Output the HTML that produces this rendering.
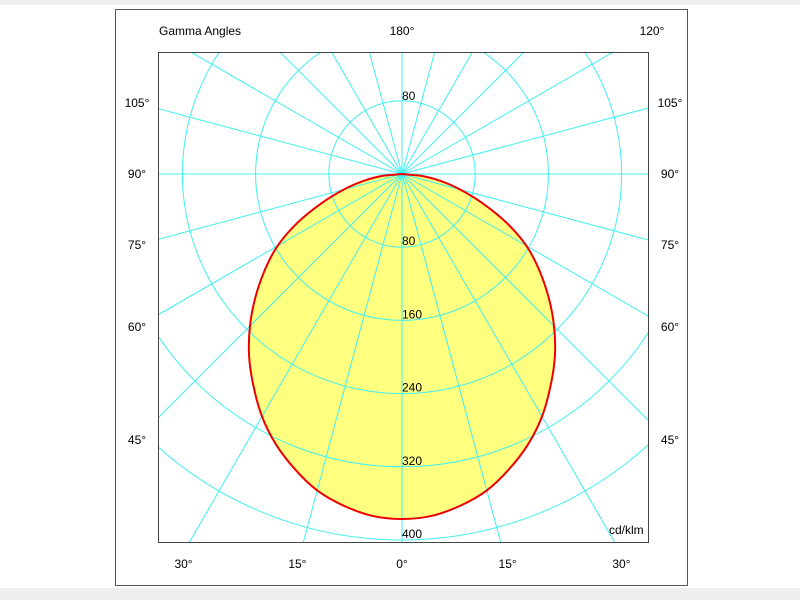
<!DOCTYPE html>
<html><head><meta charset="utf-8"><style>
html,body{margin:0;background:#fff;overflow:hidden;width:800px;height:600px;}
svg{display:block;font-family:"Liberation Sans",Arial,sans-serif;}
</style></head><body>
<svg id="chart" width="800" height="600" viewBox="0 0 800 600">
<rect x="0" y="0" width="800" height="5" fill="#eeeeee"/>
<rect x="0" y="588" width="800" height="12" fill="#eeeeee"/>
<rect x="115.5" y="9.5" width="572" height="576" fill="#fff" stroke="#555" stroke-width="1"/>
<defs><clipPath id="clip"><rect x="158" y="52" width="490" height="490"/></clipPath></defs>
<g id="series" clip-path="url(#clip)"></g>
<g id="grid2" clip-path="url(#clip)"></g>
<rect x="158.5" y="52.5" width="490" height="490" fill="none" stroke="#444" stroke-width="1"/>
<g font-size="12" fill="#000">
<text x="159" y="35">Gamma Angles</text>
<text x="609" y="534">cd/klm</text>
</g>
<g id="labels" font-size="12" fill="#000"></g>
</svg>
<script>
const gammaAngles=[0,5,10,15,20,25,30,35,40,45,50,55,60,65,70,75,80,85,90];
const intensity=[377,375,368,358,343,326,306,283,260,235,209,183,157,126,94,66,42,20,0];
const ringValues=[80,160,240,320,400];
const spokeStep=15;
const sideLabels=[{t:"105°",y:103},{t:"90°",y:174},{t:"75°",y:245},{t:"60°",y:327},{t:"45°",y:440}];
const bottomLabels=[{t:"30°",a:-30},{t:"15°",a:-15},{t:"0°",a:0},{t:"15°",a:15},{t:"30°",a:30}];
const topLabels=[{t:"180°",x:402},{t:"120°",x:652}];
const NS="http://www.w3.org/2000/svg";
const cx=402,cy=174,scale=0.915;
function rad(v){return v*scale;}
function pt(g,v){const a=g*Math.PI/180;return [cx+rad(v)*Math.sin(a),cy+rad(v)*Math.cos(a)];}
function mk(tag,attrs,parent){const e=document.createElementNS(NS,tag);for(const k in attrs)e.setAttribute(k,attrs[k]);parent.appendChild(e);return e;}
const series=document.getElementById('series'),labels=document.getElementById('labels'),g2=document.getElementById('grid2');
let pts=[];
for(let i=0;i<gammaAngles.length;i++){pts.push(pt(gammaAngles[i],intensity[i]));}
for(let i=gammaAngles.length-2;i>0;i--){pts.push(pt(-gammaAngles[i],intensity[i]));}
// closed Catmull-Rom smooth path
const n=pts.length;
let d='M'+pts[0][0].toFixed(1)+','+pts[0][1].toFixed(1);
for(let i=0;i<n;i++){
 const p0=pts[(i-1+n)%n],p1=pts[i],p2=pts[(i+1)%n],p3=pts[(i+2)%n];
 const t=(p1===pts[gammaAngles.length-1]||p2===pts[gammaAngles.length-1])?0:1/6;
 const c1=[p1[0]+(p2[0]-p0[0])*t,p1[1]+(p2[1]-p0[1])*t];
 const c2=[p2[0]-(p3[0]-p1[0])*t,p2[1]-(p3[1]-p1[1])*t];
 d+=' C'+c1[0].toFixed(1)+','+c1[1].toFixed(1)+' '+c2[0].toFixed(1)+','+c2[1].toFixed(1)+' '+p2[0].toFixed(1)+','+p2[1].toFixed(1);
}
d+='Z';
const fill=mk('path',{d:d,fill:'#ffff80',stroke:'none'},series);


for(const v of ringValues){
 const c=mk('circle',{cx:cx,cy:cy,r:rad(v),fill:'none',stroke:'#40f0f0','stroke-width':1},g2);
 
 
}
for(let a=0;a<360;a+=spokeStep){
 const p=pt(a,800);
 const l=mk('line',{x1:cx,y1:cy,x2:p[0],y2:p[1],stroke:'#40f0f0','stroke-width':1},g2);
 
 
}
const outline=mk('path',{d:d,fill:'none',stroke:'#ee0000','stroke-width':2},g2);


for(const v of ringValues){
 const t=mk('text',{x:cx,y:cy+rad(v)-2},labels);t.textContent=v;
 
 
}
const tu=mk('text',{x:cx,y:cy-rad(80)-1,'text-anchor':'start'},labels);tu.textContent=ringValues[0];


for(const s of sideLabels){
 const a=mk('text',{x:137,y:s.y+4,'text-anchor':'middle'},labels);a.textContent=s.t;
 
 
 const b=mk('text',{x:670,y:s.y+4,'text-anchor':'middle'},labels);b.textContent=s.t;
 
 
}
for(const s of bottomLabels){
 const x=cx+(542-cy)*Math.tan(s.a*Math.PI/180);
 const t=mk('text',{x:s.a===0?x:(s.a<0?x-6:x+7),y:568,'text-anchor':'middle'},labels);t.textContent=s.t;
 
 
}
for(const s of topLabels){
 const t=mk('text',{x:s.x,y:35,'text-anchor':'middle'},labels);t.textContent=s.t;
 
 
}
</script>
</body></html>
